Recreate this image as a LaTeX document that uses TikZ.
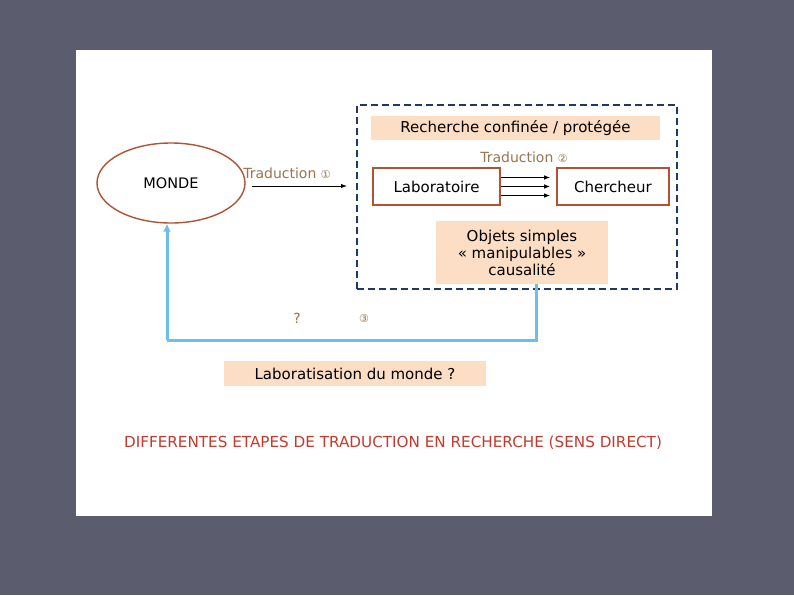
\documentclass[tikz,border=0pt]{standalone}
\usepackage{fontspec}
\setmainfont{DejaVu Sans}
\newfontfamily\symfont{DejaVu Sans}
\usetikzlibrary{arrows.meta,shapes.geometric}
\definecolor{slidebg}{RGB}{91,93,111}
\definecolor{peach}{RGB}{252,222,196}
\definecolor{brickred}{RGB}{176,82,52}
\definecolor{tanbrown}{RGB}{150,118,80}
\definecolor{navydash}{RGB}{31,56,100}
\definecolor{skyblue}{RGB}{110,190,236}
\definecolor{titlered}{RGB}{200,56,44}
\begin{document}
\begin{tikzpicture}[x=1pt,y=-1pt,
  band/.style={fill=peach,inner sep=0pt,font=\fontsize{15}{17}\selectfont},
  boxn/.style={draw=brickred,line width=1.6pt,fill=white,inner sep=0pt,font=\fontsize{15}{17}\selectfont},
  lab/.style={text=tanbrown,font=\fontsize{14}{16}\selectfont,inner sep=0pt},
  flow/.style={line width=1pt,-{Latex[length=6pt,width=4.5pt]}},
  back/.style={draw=skyblue,line width=3pt}]
\fill[slidebg] (0,0) rectangle (794,595);
\fill[white] (76,50) rectangle (712,516);
% world
\node[ellipse,draw=brickred,line width=1.4pt,minimum width=148pt,minimum height=80pt,
  font=\fontsize{14.5}{17}\selectfont] (monde) at (171,183) {MONDE};
\node[lab] (trad1) at (287,173) {Traduction {\symfont\fontsize{11}{13}\selectfont ①}};
\coordinate (t1a) at (252,186);
\coordinate (t1b) at (347,186);
\draw[flow] (t1a) -- (t1b);
% confined research
\node[draw=navydash,dash pattern=on 7pt off 4pt,line width=1.4pt,minimum width=320pt,minimum height=184pt,inner sep=0pt] (labo) at (517,197) {};
\node[band,minimum width=289pt,minimum height=24pt] (conf) at (515.5,128) {Recherche confinée / protégée};
\node[lab] (trad2) at (524,157) {Traduction {\symfont\fontsize{11}{13}\selectfont ②}};
\node[boxn,minimum width=127pt,minimum height=37pt] (lab1) at (436.5,186.5) {Laboratoire};
\node[boxn,minimum width=112pt,minimum height=37pt] (cher) at (613,186.5) {Chercheur};
\foreach \dy in {-9,0,9}
  \draw[flow] ([yshift=-\dy pt]lab1.east) -- ([xshift=-6pt,yshift=-\dy pt]cher.west);
\node[band,minimum width=172pt,minimum height=63pt,align=center] (obj) at (522,252.5)
  {Objets simples\\ « manipulables »\\ causalité};
% back to the world
\coordinate (c1) at (536,340);
\coordinate (c2) at (167,340);
\draw[back] (obj.south -| c1) -- (c1) -- (c2);
\draw[back,-{Latex[length=8pt,width=8pt]}] (c2) -- (monde.south -| c2);
\node[lab] (qm) at (297,318) {?};
\node[lab] (n3) at (364,318) {\symfont\fontsize{11}{13}\selectfont ③};
\node[band,minimum width=262pt,minimum height=25pt] (labm) at (355,373.5) {Laboratisation du monde ?};
\node[text=titlered,font=\fontsize{15.2}{18}\selectfont,inner sep=0pt] (title) at (393,443)
  {DIFFERENTES ETAPES DE TRADUCTION EN RECHERCHE (SENS DIRECT)};
\end{tikzpicture}
\end{document}
